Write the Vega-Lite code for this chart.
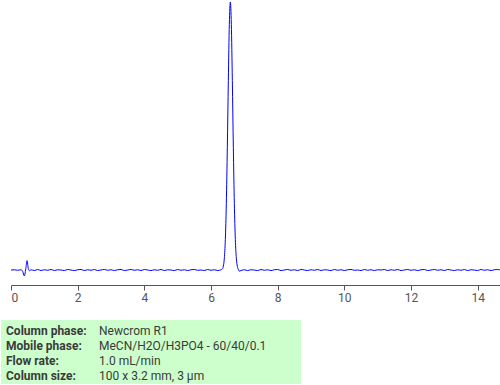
{
  "$schema": "https://vega.github.io/schema/vega-lite/v6.json",
  "width": 490,
  "height": 385,
  "padding": 0,
  "autosize": {"type": "pad"},
  "background": "white",
  "config": {"view": {"stroke": null}, "font": "Roboto"},
  "datasets": {
    "trace": [
      {"t": 0.0, "s": 0}, {"t": 0.1, "s": 0.1}, {"t": 0.2, "s": -0.1}, {"t": 0.3, "s": 0.1},
      {"t": 0.35, "s": -0.5}, {"t": 0.4, "s": -2.2}, {"t": 0.45, "s": 1.0}, {"t": 0.48, "s": 3.5},
      {"t": 0.52, "s": 0.5}, {"t": 0.56, "s": -0.3}, {"t": 0.6, "s": 0.1}, {"t": 0.7, "s": -0.2},
      {"t": 0.8, "s": 0.2}, {"t": 0.9, "s": -0.2}, {"t": 1.0, "s": 0.1}, {"t": 1.1, "s": -0.1},
      {"t": 1.2, "s": 0.2}, {"t": 1.3, "s": -0.2}, {"t": 1.4, "s": 0.1}, {"t": 1.5, "s": 0},
      {"t": 1.6, "s": -0.2}, {"t": 1.7, "s": 0.2}, {"t": 1.8, "s": 0}, {"t": 1.9, "s": -0.2},
      {"t": 2.0, "s": 0.1}, {"t": 2.1, "s": 0.2}, {"t": 2.2, "s": -0.2}, {"t": 2.3, "s": 0.1},
      {"t": 2.4, "s": -0.1}, {"t": 2.5, "s": 0.2}, {"t": 2.6, "s": -0.2}, {"t": 2.7, "s": 0},
      {"t": 2.8, "s": 0.2}, {"t": 2.9, "s": -0.1}, {"t": 3.0, "s": 0.1}, {"t": 3.1, "s": -0.2},
      {"t": 3.2, "s": 0.1}, {"t": 3.3, "s": 0.2}, {"t": 3.4, "s": -0.2}, {"t": 3.5, "s": 0},
      {"t": 3.6, "s": 0.2}, {"t": 3.7, "s": -0.1}, {"t": 3.8, "s": 0.1}, {"t": 3.9, "s": -0.2},
      {"t": 4.0, "s": 0.2}, {"t": 4.1, "s": 0}, {"t": 4.2, "s": -0.2}, {"t": 4.3, "s": 0.1},
      {"t": 4.4, "s": -0.1}, {"t": 4.5, "s": 0.2}, {"t": 4.6, "s": -0.2}, {"t": 4.7, "s": 0.1},
      {"t": 4.8, "s": 0}, {"t": 4.9, "s": -0.2}, {"t": 5.0, "s": 0.2}, {"t": 5.1, "s": -0.1},
      {"t": 5.2, "s": 0.1}, {"t": 5.3, "s": -0.2}, {"t": 5.4, "s": 0.1}, {"t": 5.5, "s": 0.2},
      {"t": 5.6, "s": -0.1}, {"t": 5.7, "s": 0}, {"t": 5.8, "s": -0.2}, {"t": 5.9, "s": 0.2},
      {"t": 6.0, "s": -0.1}, {"t": 6.1, "s": 0.1}, {"t": 6.2, "s": -0.2}, {"t": 6.3, "s": 0.1},
      {"t": 6.34, "s": 0.4}, {"t": 6.37, "s": 1.4}, {"t": 6.4, "s": 4.4}, {"t": 6.43, "s": 11.4},
      {"t": 6.46, "s": 24.9}, {"t": 6.49, "s": 45.8}, {"t": 6.52, "s": 70.7}, {"t": 6.55, "s": 91.7},
      {"t": 6.58, "s": 100}, {"t": 6.61, "s": 91.7}, {"t": 6.64, "s": 70.7}, {"t": 6.67, "s": 45.8},
      {"t": 6.7, "s": 24.9}, {"t": 6.73, "s": 11.4}, {"t": 6.76, "s": 4.4}, {"t": 6.79, "s": 1.4},
      {"t": 6.82, "s": 0.2}, {"t": 6.85, "s": -0.4}, {"t": 6.9, "s": -0.2}, {"t": 7.0, "s": 0.1},
      {"t": 7.1, "s": -0.2}, {"t": 7.2, "s": 0.1}, {"t": 7.3, "s": 0}, {"t": 7.4, "s": -0.2},
      {"t": 7.5, "s": 0.2}, {"t": 7.6, "s": -0.1}, {"t": 7.7, "s": 0.1}, {"t": 7.8, "s": -0.2},
      {"t": 7.9, "s": 0.1}, {"t": 8.0, "s": 0.2}, {"t": 8.1, "s": -0.2}, {"t": 8.2, "s": 0},
      {"t": 8.3, "s": 0.2}, {"t": 8.4, "s": -0.1}, {"t": 8.5, "s": 0.1}, {"t": 8.6, "s": -0.2},
      {"t": 8.7, "s": 0.2}, {"t": 8.8, "s": 0}, {"t": 8.9, "s": -0.2}, {"t": 9.0, "s": 0.1},
      {"t": 9.1, "s": -0.1}, {"t": 9.2, "s": 0.2}, {"t": 9.3, "s": -0.2}, {"t": 9.4, "s": 0.1},
      {"t": 9.5, "s": 0}, {"t": 9.6, "s": -0.2}, {"t": 9.7, "s": 0.2}, {"t": 9.8, "s": -0.1},
      {"t": 9.9, "s": 0.1}, {"t": 10.0, "s": -0.2}, {"t": 10.1, "s": 0.1}, {"t": 10.2, "s": 0.2},
      {"t": 10.3, "s": -0.1}, {"t": 10.4, "s": 0}, {"t": 10.5, "s": -0.2}, {"t": 10.6, "s": 0.2},
      {"t": 10.7, "s": -0.1}, {"t": 10.8, "s": 0.1}, {"t": 10.9, "s": -0.2}, {"t": 11.0, "s": 0.1},
      {"t": 11.1, "s": 0}, {"t": 11.2, "s": 0.2}, {"t": 11.3, "s": -0.2}, {"t": 11.4, "s": 0.1},
      {"t": 11.5, "s": -0.1}, {"t": 11.6, "s": 0.2}, {"t": 11.7, "s": -0.2}, {"t": 11.8, "s": 0},
      {"t": 11.9, "s": 0.2}, {"t": 12.0, "s": -0.1}, {"t": 12.1, "s": 0.1}, {"t": 12.2, "s": -0.2},
      {"t": 12.3, "s": 0.1}, {"t": 12.4, "s": 0.2}, {"t": 12.5, "s": -0.2}, {"t": 12.6, "s": 0},
      {"t": 12.7, "s": 0.2}, {"t": 12.8, "s": -0.1}, {"t": 12.9, "s": 0.1}, {"t": 13.0, "s": -0.2},
      {"t": 13.1, "s": 0.2}, {"t": 13.2, "s": 0}, {"t": 13.3, "s": -0.2}, {"t": 13.4, "s": 0.1},
      {"t": 13.5, "s": -0.1}, {"t": 13.6, "s": 0.2}, {"t": 13.7, "s": -0.2}, {"t": 13.8, "s": 0.1},
      {"t": 13.9, "s": 0}, {"t": 14.0, "s": -0.2}, {"t": 14.1, "s": 0.2}, {"t": 14.2, "s": -0.1},
      {"t": 14.3, "s": 0.1}, {"t": 14.4, "s": -0.2}, {"t": 14.5, "s": 0.1}, {"t": 14.6, "s": 0.2},
      {"t": 14.7, "s": -0.1}
    ],
    "conditions": [
      {"parameter": "Column phase:", "value": "Newcrom R1"},
      {"parameter": "Mobile phase:", "value": "MeCN/H2O/H3PO4 - 60/40/0.1"},
      {"parameter": "Flow rate:", "value": "1.0 mL/min"},
      {"parameter": "Column size:", "value": "100 x 3.2 mm, 3 µm"}
    ]
  },
  "layer": [
    {
      "data": {"values": [{}]},
      "mark": {"type": "rect", "color": "#ccffcc"},
      "encoding": {
        "x": {"datum": -0.3, "type": "quantitative", "scale": {"domain": [0, 14.7], "nice": false, "zero": false}},
        "x2": {"datum": 8.7},
        "y": {"datum": -18.66, "type": "quantitative", "axis": null, "scale": {"domain": [-42.9, 100.75], "nice": false, "zero": false}},
        "y2": {"datum": -42.5}
      }
    },
    {
      "data": {"name": "trace"},
      "mark": {"type": "line", "color": "#0000ff", "strokeWidth": 1, "interpolate": "monotone"},
      "encoding": {
        "x": {
          "field": "t", "type": "quantitative",
          "scale": {"domain": [0, 14.7], "nice": false, "zero": false},
          "axis": {
            "values": [0, 2, 4, 6, 8, 10, 12, 14],
            "title": null, "grid": false, "offset": -100,
            "domainColor": "#555555", "tickColor": "#555555", "tickSize": 5,
            "labelColor": "#555555", "labelFontSize": 12, "labelPadding": 2, "labelFont": "Roboto"
          }
        },
        "y": {
          "field": "s", "type": "quantitative",
          "scale": {"domain": [-42.9, 100.75], "nice": false, "zero": false},
          "axis": null
        }
      }
    },
    {
      "data": {"name": "conditions"},
      "mark": {"type": "text", "align": "left", "baseline": "middle", "fontWeight": "bold", "fontSize": 12, "font": "Roboto", "color": "#3a3a3a"},
      "encoding": {
        "x": {"datum": -0.15, "type": "quantitative"},
        "y": {"field": "parameter", "type": "nominal", "sort": null, "axis": null, "scale": {"type": "point", "range": [331, 376], "padding": 0}},
        "text": {"field": "parameter"}
      }
    },
    {
      "data": {"name": "conditions"},
      "mark": {"type": "text", "align": "left", "baseline": "middle", "fontSize": 12, "font": "Roboto", "color": "#3a3a3a"},
      "encoding": {
        "x": {"datum": 2.64, "type": "quantitative"},
        "y": {"field": "parameter", "type": "nominal", "sort": null, "axis": null, "scale": {"type": "point", "range": [331, 376], "padding": 0}},
        "text": {"field": "value"}
      }
    }
  ],
  "resolve": {"scale": {"y": "independent"}}
}
